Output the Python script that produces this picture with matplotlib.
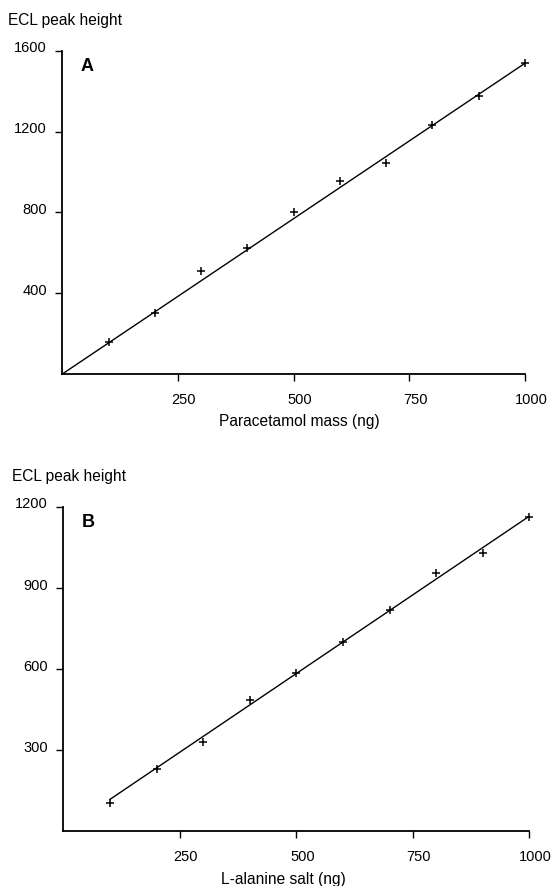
import numpy as np
import matplotlib.pyplot as plt
import matplotlib.transforms as mtransforms

plt.rcParams['font.family'] = ['Liberation Sans', 'DejaVu Sans']

# panel A: paracetamol
mass_a = [100, 200, 300, 400, 500, 600, 700, 800, 900, 1000]
ecl_a = [156, 304, 510, 625, 802, 954, 1044, 1230, 1375, 1541]
fit_a_x = [0, 1000]
fit_a_y = [0, 1538]

# panel B: L-alanine salt
mass_b = [100, 200, 300, 400, 500, 600, 700, 800, 900, 1000]
ecl_b = [106, 229, 330, 487, 585, 699, 820, 955, 1028, 1164]
fit_b_x = [100, 1000]
fit_b_y = [118, 1166]

xticks = [250, 500, 750, 1000]
yticks_a = [400, 800, 1200, 1600]
yticks_b = [300, 600, 900, 1200]

W, H = 556, 887
fig = plt.figure(figsize=(W/100, H/100), dpi=100)

def px_axes(l, r, t, b):
    return fig.add_axes([l/W, (H-b)/H, (r-l)/W, (b-t)/H])

def style(ax, ymax, yticks, letter):
    ax.set_xlim(0, 1000)
    ax.set_ylim(0, ymax)
    ax.set_xticks(xticks)
    ax.set_yticks(yticks)
    for s in ['top', 'right']:
        ax.spines[s].set_visible(False)
    for s in ['left', 'bottom']:
        ax.spines[s].set_linewidth(1.3)
    ax.tick_params(direction='out', length=5, width=1.0, labelsize=10.5)
    ax.tick_params(axis='y', pad=6)
    ax.tick_params(axis='x', pad=8)
    up = mtransforms.ScaledTranslation(0, 5/100, fig.dpi_scale_trans)
    for lab in ax.get_yticklabels():
        lab.set_transform(lab.get_transform() + up)
    right = mtransforms.ScaledTranslation(6/100, 0, fig.dpi_scale_trans)
    for lab in ax.get_xticklabels():
        lab.set_transform(lab.get_transform() + right)
    ax.text(0.053, 0.955, letter, transform=ax.transAxes, fontsize=13,
            fontweight='bold', va='center', ha='center')

ax1 = px_axes(62.3, 525, 51.7, 375)
ax1.plot(fit_a_x, fit_a_y, color='black', lw=1.0)
ax1.plot(mass_a, ecl_a, '+', color='black', ms=6, mew=1.1, clip_on=False)
style(ax1, 1600, yticks_a, 'A')

ax2 = px_axes(63.3, 529.3, 508, 832.3)
ax2.plot(fit_b_x, fit_b_y, color='black', lw=1.0)
ax2.plot(mass_b, ecl_b, '+', color='black', ms=6, mew=1.1, clip_on=False)
style(ax2, 1200, yticks_b, 'B')

fig.text(8/W, 1 - 20.5/H, 'ECL peak height', fontsize=11.2, va='center', ha='left')
fig.text(12/W, 1 - 477/H, 'ECL peak height', fontsize=11.2, va='center', ha='left')
fig.text(299/W, 1 - 422/H, 'Paracetamol mass (ng)', fontsize=11.2, va='center', ha='center')
fig.text(283/W, 1 - 880/H, 'L-alanine salt (ng)', fontsize=11.2, va='center', ha='center')

fig.savefig('out.png', dpi=100)
